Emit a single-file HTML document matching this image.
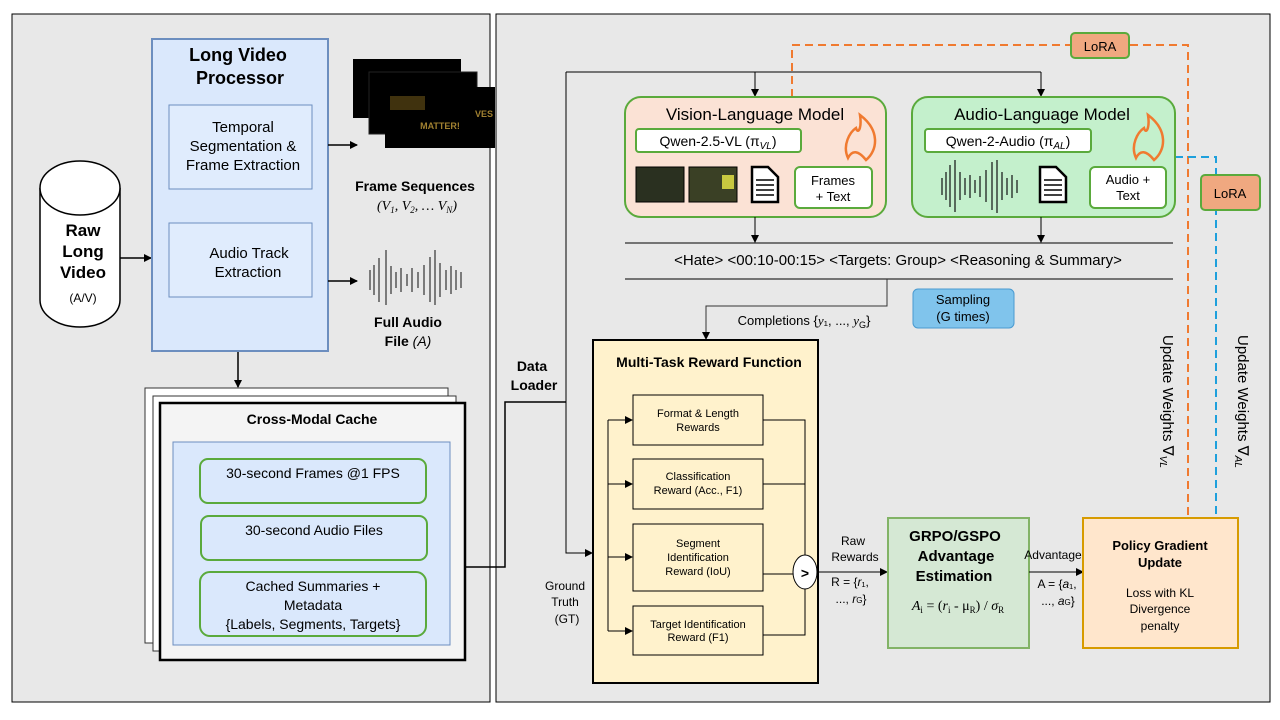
<!DOCTYPE html>
<html><head><meta charset="utf-8"><style>
body{margin:0;background:#fff;}
svg{display:block;font-family:"Liberation Sans",sans-serif;}
</style></head><body>
<svg width="1280" height="720" viewBox="0 0 1280 720" xmlns="http://www.w3.org/2000/svg">
<defs>
<marker id="a" markerWidth="8" markerHeight="8" refX="7" refY="4" orient="auto" markerUnits="userSpaceOnUse"><path d="M0,0 L8,4 L0,8 z" fill="#000"/></marker>
</defs>
<rect x="12" y="14" width="478" height="688" fill="#e8e8e8" stroke="#000"/>
<rect x="496" y="14" width="774" height="688" fill="#e8e8e8" stroke="#000"/>

<path d="M40,188 L40,300 A40,27 0 0 0 120,300 L120,188" fill="#fff" stroke="#000" stroke-width="1.5"/>
<ellipse cx="80" cy="188" rx="40" ry="27" fill="#fff" stroke="#000" stroke-width="1.5"/>
<text x="83" y="236" font-size="17" font-weight="bold" text-anchor="middle">Raw</text>
<text x="83" y="257" font-size="17" font-weight="bold" text-anchor="middle">Long</text>
<text x="83" y="278" font-size="17" font-weight="bold" text-anchor="middle">Video</text>
<text x="83" y="302" font-size="12" text-anchor="middle">(A/V)</text>
<line x1="120" y1="258" x2="151" y2="258" stroke="#000" stroke-width="1.5" marker-end="url(#a)"/>

<rect x="152" y="39" width="176" height="312" fill="#dae8fc" stroke="#6c8ebf" stroke-width="2"/>
<text x="238" y="61" font-size="18" font-weight="bold" text-anchor="middle">Long Video</text>
<text x="240" y="84" font-size="18" font-weight="bold" text-anchor="middle">Processor</text>
<rect x="169" y="105" width="143" height="84" fill="#e0ecfd" stroke="#6c8ebf"/>
<text x="243" y="132" font-size="15" text-anchor="middle">Temporal</text>
<text x="243" y="151" font-size="15" text-anchor="middle">Segmentation &amp;</text>
<text x="243" y="170" font-size="15" text-anchor="middle">Frame Extraction</text>
<rect x="169" y="223" width="143" height="74" fill="#e0ecfd" stroke="#6c8ebf"/>
<text x="249" y="258" font-size="15" text-anchor="middle">Audio Track</text>
<text x="248" y="277" font-size="15" text-anchor="middle">Extraction</text>
<line x1="328" y1="145" x2="357" y2="145" stroke="#000" stroke-width="1.5" marker-end="url(#a)"/>
<line x1="328" y1="281" x2="357" y2="281" stroke="#000" stroke-width="1.5" marker-end="url(#a)"/>

<rect x="353" y="59" width="108" height="59" fill="#000"/>
<rect x="369" y="72" width="108" height="62" fill="#000" stroke="#222"/>
<rect x="385" y="87" width="110" height="61" fill="#000"/>
<text x="440" y="129" font-size="9" font-weight="bold" fill="#a08030" text-anchor="middle">MATTER!</text>
<text x="475" y="117" font-size="9" font-weight="bold" fill="#a08030">VES</text>
<rect x="390" y="96" width="35" height="14" fill="#6a5418" opacity="0.6"/>
<text x="415" y="191" font-size="14" font-weight="bold" text-anchor="middle">Frame Sequences</text>
<text x="417" y="210" font-size="14" font-style="italic" font-family="Liberation Serif,serif" text-anchor="middle">(V<tspan font-size="9" dy="3">1</tspan><tspan dy="-3">, V</tspan><tspan font-size="9" dy="3">2</tspan><tspan dy="-3">, … V</tspan><tspan font-size="9" dy="3">N</tspan><tspan dy="-3">)</tspan></text>

<g stroke="#333" stroke-width="1.2">
<line x1="370" y1="270" x2="370" y2="290"/><line x1="374" y1="265" x2="374" y2="295"/>
<line x1="379" y1="258" x2="379" y2="302"/><line x1="386" y1="250" x2="386" y2="305"/>
<line x1="391" y1="266" x2="391" y2="294"/><line x1="396" y1="272" x2="396" y2="288"/>
<line x1="401" y1="268" x2="401" y2="292"/><line x1="407" y1="274" x2="407" y2="286"/>
<line x1="412" y1="268" x2="412" y2="292"/><line x1="418" y1="272" x2="418" y2="288"/>
<line x1="424" y1="265" x2="424" y2="295"/><line x1="430" y1="257" x2="430" y2="302"/>
<line x1="435" y1="250" x2="435" y2="305"/><line x1="440" y1="263" x2="440" y2="297"/>
<line x1="446" y1="270" x2="446" y2="290"/><line x1="451" y1="266" x2="451" y2="294"/>
<line x1="456" y1="270" x2="456" y2="290"/><line x1="461" y1="272" x2="461" y2="288"/>
</g>
<text x="408" y="327" font-size="14" font-weight="bold" text-anchor="middle">Full Audio</text>
<text x="408" y="346" font-size="14" font-weight="bold" text-anchor="middle">File <tspan font-style="italic" font-weight="normal">(A)</tspan></text>

<line x1="238" y1="352" x2="238" y2="387" stroke="#000" stroke-width="1.5" marker-end="url(#a)"/>

<rect x="145" y="388" width="303" height="255" fill="#fff" stroke="#333"/>
<rect x="153" y="396" width="303" height="255" fill="#fff" stroke="#333"/>
<rect x="160" y="403" width="305" height="257" fill="#f4f4f4" stroke="#000" stroke-width="2.5"/>
<text x="312" y="424" font-size="14" font-weight="bold" text-anchor="middle">Cross-Modal Cache</text>
<rect x="173" y="442" width="277" height="203" fill="#dae8fc" stroke="#6c8ebf"/>
<rect x="200" y="459" width="226" height="44" rx="8" fill="#dae8fc" stroke="#5aaa3c" stroke-width="2"/>
<text x="313" y="478" font-size="14" text-anchor="middle">30-second Frames @1 FPS</text>
<rect x="201" y="516" width="226" height="44" rx="8" fill="#dae8fc" stroke="#5aaa3c" stroke-width="2"/>
<text x="314" y="535" font-size="14" text-anchor="middle">30-second Audio Files</text>
<rect x="200" y="572" width="226" height="64" rx="10" fill="#dae8fc" stroke="#5aaa3c" stroke-width="2"/>
<text x="313" y="591" font-size="14" text-anchor="middle">Cached Summaries +</text>
<text x="313" y="610" font-size="14" text-anchor="middle">Metadata</text>
<text x="313" y="629" font-size="14" text-anchor="middle">{Labels, Segments, Targets}</text>

<polyline points="465,567 505,567 505,402 566,402" fill="none" stroke="#000" stroke-width="1.5"/>
<polyline points="566,72 566,553 592,553" fill="none" stroke="#000" stroke-width="1" marker-end="url(#a)"/>
<polyline points="566,72 1041,72" fill="none" stroke="#000" stroke-width="1"/>
<line x1="755" y1="72" x2="755" y2="96" stroke="#000" marker-end="url(#a)"/>
<line x1="1041" y1="72" x2="1041" y2="96" stroke="#000" marker-end="url(#a)"/>
<text x="532" y="371" font-size="14" font-weight="bold" text-anchor="middle">Data</text>
<text x="534" y="390" font-size="14" font-weight="bold" text-anchor="middle">Loader</text>

<polyline points="792,97 792,45 1188,45 1188,518" fill="none" stroke="#f07a30" stroke-width="2" stroke-dasharray="8,5"/>
<rect x="1071" y="33" width="58" height="25" rx="4" fill="#f0a880" stroke="#5aaa3c" stroke-width="2"/>
<text x="1100" y="51" font-size="13" text-anchor="middle">LoRA</text>
<polyline points="1175,157 1216,157 1216,518" fill="none" stroke="#1ea0dc" stroke-width="2" stroke-dasharray="8,5"/>
<rect x="1201" y="175" width="59" height="35" rx="4" fill="#f0a880" stroke="#5aaa3c" stroke-width="2"/>
<text x="1230" y="198" font-size="13" text-anchor="middle">LoRA</text>

<rect x="625" y="97" width="261" height="120" rx="16" fill="#fbe2d5" stroke="#5aaa3c" stroke-width="2"/>
<text x="755" y="120" font-size="17" text-anchor="middle">Vision-Language Model</text>
<rect x="636" y="129" width="165" height="23" rx="3" fill="#fff" stroke="#5aaa3c" stroke-width="2"/>
<text x="718" y="146" font-size="14" text-anchor="middle">Qwen-2.5-VL (π<tspan font-size="10" font-style="italic" dy="3">VL</tspan><tspan dy="-3">)</tspan></text>
<rect x="636" y="167" width="48" height="35" fill="#2a3020" stroke="#000"/>
<rect x="689" y="167" width="48" height="35" fill="#3a4025" stroke="#000"/>
<rect x="722" y="175" width="12" height="14" fill="#c8c840"/>
<path d="M752,167 L768,167 L778,177 L778,202 L752,202 z" fill="#fff" stroke="#000" stroke-width="2.5"/>
<g stroke="#000" stroke-width="1.5"><line x1="756" y1="180" x2="774" y2="180"/><line x1="756" y1="185" x2="774" y2="185"/><line x1="756" y1="190" x2="774" y2="190"/><line x1="756" y1="195" x2="774" y2="195"/></g>
<rect x="795" y="167" width="77" height="41" rx="5" fill="#fff" stroke="#5aaa3c" stroke-width="2"/>
<text x="833" y="185" font-size="13" text-anchor="middle">Frames</text>
<text x="833" y="201" font-size="13" text-anchor="middle">+ Text</text>
<path d="M860,115 C880,130 878,150 866,160 C858,150 852,150 848,158 C842,145 850,132 856,128 C858,135 862,128 860,115z" fill="none" stroke="#f07a30" stroke-width="2.5"/>

<rect x="912" y="97" width="263" height="120" rx="16" fill="#c4f0cc" stroke="#5aaa3c" stroke-width="2"/>
<text x="1042" y="120" font-size="17" text-anchor="middle">Audio-Language Model</text>
<rect x="925" y="129" width="166" height="23" rx="3" fill="#fff" stroke="#5aaa3c" stroke-width="2"/>
<text x="1008" y="146" font-size="14" text-anchor="middle">Qwen-2-Audio (π<tspan font-size="10" font-style="italic" dy="3">AL</tspan><tspan dy="-3">)</tspan></text>
<path d="M1148,115 C1168,130 1166,150 1154,160 C1146,150 1140,150 1136,158 C1130,145 1138,132 1144,128 C1146,135 1150,128 1148,115z" fill="none" stroke="#f07a30" stroke-width="2.5"/>
<g stroke="#111" stroke-width="1.2">
<line x1="942" y1="178" x2="942" y2="195"/><line x1="946" y1="172" x2="946" y2="200"/><line x1="950" y1="165" x2="950" y2="207"/><line x1="955" y1="160" x2="955" y2="212"/><line x1="960" y1="172" x2="960" y2="200"/><line x1="965" y1="178" x2="965" y2="195"/><line x1="970" y1="175" x2="970" y2="198"/><line x1="975" y1="180" x2="975" y2="193"/><line x1="980" y1="176" x2="980" y2="197"/><line x1="986" y1="170" x2="986" y2="202"/><line x1="992" y1="162" x2="992" y2="210"/><line x1="997" y1="160" x2="997" y2="213"/><line x1="1002" y1="172" x2="1002" y2="200"/><line x1="1007" y1="178" x2="1007" y2="195"/><line x1="1012" y1="175" x2="1012" y2="198"/><line x1="1017" y1="180" x2="1017" y2="193"/>
</g>
<path d="M1040,167 L1056,167 L1066,177 L1066,202 L1040,202 z" fill="#fff" stroke="#000" stroke-width="2.5"/>
<g stroke="#000" stroke-width="1.5"><line x1="1044" y1="180" x2="1062" y2="180"/><line x1="1044" y1="185" x2="1062" y2="185"/><line x1="1044" y1="190" x2="1062" y2="190"/><line x1="1044" y1="195" x2="1062" y2="195"/></g>
<rect x="1090" y="167" width="76" height="41" rx="5" fill="#fff" stroke="#5aaa3c" stroke-width="2"/>
<text x="1128" y="184" font-size="13" text-anchor="middle">Audio +</text>
<text x="1128" y="200" font-size="13" text-anchor="middle">Text</text>

<line x1="755" y1="217" x2="755" y2="242" stroke="#000" marker-end="url(#a)"/>
<line x1="1041" y1="217" x2="1041" y2="242" stroke="#000" marker-end="url(#a)"/>
<line x1="625" y1="243" x2="1173" y2="243" stroke="#000"/>
<line x1="625" y1="279" x2="1173" y2="279" stroke="#000"/>
<text x="898" y="265" font-size="15" text-anchor="middle">&lt;Hate&gt; &lt;00:10-00:15&gt; &lt;Targets: Group&gt; &lt;Reasoning &amp; Summary&gt;</text>
<polyline points="887,279 887,306 706,306 706,339" fill="none" stroke="#333" marker-end="url(#a)"/>
<text x="804" y="325" font-size="13" text-anchor="middle">Completions {<tspan font-style="italic" font-family="Liberation Serif,serif">y</tspan>₁, ..., <tspan font-style="italic" font-family="Liberation Serif,serif">y</tspan><tspan font-size="9" dy="3">G</tspan><tspan dy="-3">}</tspan></text>
<rect x="913" y="289" width="101" height="39" rx="5" fill="#80c4ec" stroke="#4a9ad0"/>
<text x="963" y="304" font-size="13" text-anchor="middle">Sampling</text>
<text x="963" y="321" font-size="13" text-anchor="middle">(G times)</text>

<rect x="593" y="340" width="225" height="343" fill="#fff2cc" stroke="#000" stroke-width="2"/>
<text x="709" y="367" font-size="14" font-weight="bold" text-anchor="middle">Multi-Task Reward Function</text>
<line x1="608" y1="420" x2="608" y2="631" stroke="#000"/>
<g stroke="#000"><line x1="608" y1="420" x2="632" y2="420" marker-end="url(#a)"/><line x1="608" y1="484" x2="632" y2="484" marker-end="url(#a)"/><line x1="608" y1="557" x2="632" y2="557" marker-end="url(#a)"/><line x1="608" y1="631" x2="632" y2="631" marker-end="url(#a)"/></g>
<g fill="#fff2cc" stroke="#000"><rect x="633" y="395" width="130" height="50"/><rect x="633" y="459" width="130" height="50"/><rect x="633" y="524" width="130" height="67"/><rect x="633" y="606" width="130" height="49"/></g>
<g font-size="11" text-anchor="middle">
<text x="698" y="417">Format &amp; Length</text><text x="698" y="431">Rewards</text>
<text x="698" y="480">Classification</text><text x="698" y="494">Reward (Acc., F1)</text>
<text x="698" y="547">Segment</text><text x="698" y="561">Identification</text><text x="698" y="575">Reward (IoU)</text>
<text x="698" y="628">Target Identification</text><text x="698" y="641">Reward (F1)</text>
</g>
<polyline points="763,420 805,420 805,635 763,635" fill="none" stroke="#000"/>
<line x1="763" y1="484" x2="805" y2="484" stroke="#000"/>
<line x1="763" y1="574" x2="805" y2="574" stroke="#000"/>
<ellipse cx="805" cy="572" rx="12" ry="17" fill="#fff" stroke="#000"/>
<text x="805" y="578" font-size="14" font-weight="bold" text-anchor="middle">&gt;</text>
<line x1="817" y1="572" x2="887" y2="572" stroke="#000" marker-end="url(#a)"/>
<text x="565" y="590" font-size="12" text-anchor="middle">Ground</text>
<text x="565" y="606" font-size="12" text-anchor="middle">Truth</text>
<text x="567" y="623" font-size="12" text-anchor="middle">(GT)</text>
<text x="853" y="545" font-size="12" text-anchor="middle">Raw</text>
<text x="855" y="561" font-size="12" text-anchor="middle">Rewards</text>
<text x="850" y="586" font-size="12" text-anchor="middle">R = {<tspan font-style="italic">r</tspan>₁,</text>
<text x="851" y="603" font-size="12" text-anchor="middle">..., <tspan font-style="italic">r</tspan><tspan font-size="8">G</tspan>}</text>

<rect x="888" y="518" width="141" height="130" fill="#d5e8d4" stroke="#82b366" stroke-width="2"/>
<text x="955" y="541" font-size="15" font-weight="bold" text-anchor="middle">GRPO/GSPO</text>
<text x="956" y="561" font-size="15" font-weight="bold" text-anchor="middle">Advantage</text>
<text x="954" y="581" font-size="15" font-weight="bold" text-anchor="middle">Estimation</text>
<text x="958" y="610" font-size="14" font-family="Liberation Serif,serif" text-anchor="middle"><tspan font-style="italic">A</tspan><tspan font-size="9" dy="3">i</tspan><tspan dy="-3"> = (</tspan><tspan font-style="italic">r</tspan><tspan font-size="9" dy="3">i</tspan><tspan dy="-3"> - μ</tspan><tspan font-size="9" dy="3">R</tspan><tspan dy="-3">) / </tspan><tspan font-style="italic">σ</tspan><tspan font-size="9" dy="3">R</tspan></text>
<line x1="1029" y1="572" x2="1083" y2="572" stroke="#000" marker-end="url(#a)"/>
<text x="1056" y="559" font-size="12" text-anchor="middle">Advantages</text>
<text x="1057" y="588" font-size="12" text-anchor="middle">A = {<tspan font-style="italic">a</tspan>₁,</text>
<text x="1058" y="605" font-size="12" text-anchor="middle">..., <tspan font-style="italic">a</tspan><tspan font-size="8">G</tspan>}</text>

<rect x="1083" y="518" width="155" height="130" fill="#ffe6cc" stroke="#d79b00" stroke-width="2"/>
<text x="1160" y="550" font-size="13" font-weight="bold" text-anchor="middle">Policy Gradient</text>
<text x="1160" y="567" font-size="13" font-weight="bold" text-anchor="middle">Update</text>
<text x="1160" y="597" font-size="12" text-anchor="middle">Loss with KL</text>
<text x="1160" y="613" font-size="12" text-anchor="middle">Divergence</text>
<text x="1160" y="630" font-size="12" text-anchor="middle">penalty</text>

<text transform="translate(1163,335) rotate(90)" font-size="15">Update Weights ∇<tspan font-size="10" font-style="italic" dy="3">VL</tspan></text>
<text transform="translate(1238,335) rotate(90)" font-size="15">Update Weights ∇<tspan font-size="10" font-style="italic" dy="3">AL</tspan></text>
</svg>
</body></html>
